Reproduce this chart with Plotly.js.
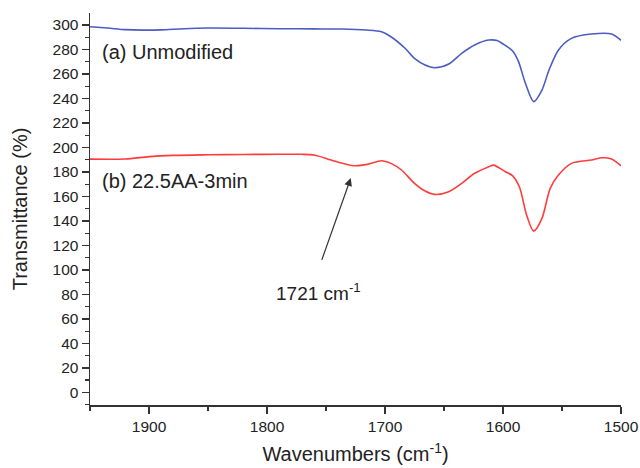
<!DOCTYPE html>
<html>
<head>
<meta charset="utf-8">
<script src="https://cdn.plot.ly/plotly-3.0.1.min.js"></script>
<style>html,body{margin:0;padding:0;background:#fff}#chart{width:640px;height:468px}</style>
</head>
<body>
<div id="chart"></div>
<script>
// Series (a) Unmodified
const wnA = [1950, 1935, 1920, 1905, 1890, 1870, 1850, 1820, 1790, 1760, 1737, 1716, 1703, 1695, 1683, 1675, 1666, 1658, 1646, 1635, 1624, 1612, 1605, 1600, 1592, 1587, 1581, 1574, 1567, 1561, 1553, 1542, 1525, 1508, 1500];
const tA  = [298.6, 297.5, 296.2, 295.8, 296.0, 297.0, 297.5, 297.3, 297.0, 296.8, 296.7, 295.9, 294.5, 290.4, 281.0, 272.8, 267.3, 265.1, 268.1, 276.9, 283.7, 287.7, 287.3, 284.5, 279.0, 270.5, 252.4, 237.4, 246.9, 263.2, 279.6, 289.1, 292.6, 292.6, 287.5];
// Series (b) 22.5AA-3min
const wnB = [1950, 1920, 1900, 1880, 1850, 1820, 1790, 1771, 1760, 1743, 1726, 1715, 1703, 1695, 1686, 1675, 1666, 1658, 1646, 1635, 1624, 1612, 1608, 1598, 1592, 1586, 1580, 1574, 1567, 1560, 1553, 1542, 1525, 1516, 1508, 1500];
const tB  = [190.5, 190.6, 192.5, 193.5, 194.0, 194.3, 194.4, 194.4, 193.8, 188.9, 185.1, 186.2, 189.2, 187.0, 181.6, 170.7, 164.4, 161.7, 163.9, 170.7, 178.9, 184.3, 185.6, 180.2, 177.0, 167.5, 144.8, 131.7, 142.1, 166.6, 177.5, 187.0, 189.7, 191.6, 190.5, 185.0];

const labelA = "(a) Unmodified";
const labelB = "(b) 22.5AA-3min";
const peakLabel = "1721 cm<sup>-1</sup>";

const FONT = "Liberation Sans, Arial, sans-serif";

const traces = [
  {x: wnA, y: tA, mode: "lines", line: {color: "#4b5cc4", width: 1.6, shape: "spline", smoothing: 0.8}, name: labelA},
  {x: wnB, y: tB, mode: "lines", line: {color: "#ff3c3c", width: 1.6, shape: "spline", smoothing: 0.8}, name: labelB}
];

const layout = {
  width: 640, height: 468,
  margin: {l: 90, r: 19, t: 13, b: 63},
  paper_bgcolor: "#fff", plot_bgcolor: "#fff",
  showlegend: false,
  font: {family: FONT, color: "#222"},
  xaxis: {
    range: [1950, 1500], tick0: 1500, dtick: 100,
    showgrid: false, zeroline: false,
    showline: true, linecolor: "#333", linewidth: 1.5,
    ticks: "outside", ticklen: 7, tickwidth: 1.3, tickcolor: "#333",
    minor: {dtick: 50, ticks: "outside", ticklen: 4, tickwidth: 1.3, tickcolor: "#333", showgrid: false},
    tickfont: {size: 15.5, family: FONT, color: "#222"},
    title: {text: "Wavenumbers (cm<sup>-1</sup>)", font: {size: 20, family: FONT, color: "#222"}, standoff: 13}
  },
  yaxis: {
    range: [-10.3, 309.8], tick0: 0, dtick: 20,
    showgrid: false, zeroline: false,
    showline: true, linecolor: "#333", linewidth: 1.5,
    ticks: "outside", ticklen: 7, tickwidth: 1.3, tickcolor: "#333",
    minor: {dtick: 10, ticks: "outside", ticklen: 4, tickwidth: 1.3, tickcolor: "#333", showgrid: false},
    tickfont: {size: 15.5, family: FONT, color: "#222"},
    title: {text: "Transmittance (%)", font: {size: 20, family: FONT, color: "#222"}, standoff: 19}
  },
  annotations: [
    {x: 1941.5, y: 278, xref: "x", yref: "y", text: labelA, showarrow: false, xanchor: "left", yanchor: "middle", font: {size: 20, family: FONT, color: "#222"}},
    {x: 1941.5, y: 172.6, xref: "x", yref: "y", text: labelB, showarrow: false, xanchor: "left", yanchor: "middle", font: {size: 20, family: FONT, color: "#222"}},
    {x: 1729, y: 175, xref: "x", yref: "y", ax: 1754, ay: 107, axref: "x", ayref: "y", text: "", showarrow: true, arrowhead: 2, arrowsize: 1.3, arrowwidth: 1.2, arrowcolor: "#333"},
    {x: 1756, y: 82, xref: "x", yref: "y", text: peakLabel, showarrow: false, xanchor: "center", yanchor: "middle", font: {size: 19, family: FONT, color: "#222"}}
  ]
};

Plotly.newPlot("chart", traces, layout, {displayModeBar: false, staticPlot: true});
</script>
</body>
</html>
